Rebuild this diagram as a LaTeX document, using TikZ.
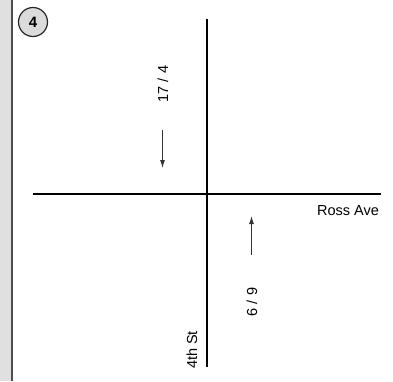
\documentclass[tikz,border=0pt]{standalone}
\usepackage{fontspec}
\setmainfont{Liberation Sans}
\usetikzlibrary{arrows.meta}
\begin{document}
\begin{tikzpicture}[x=1pt,y=-1pt,
  street/.style={line width=2.6pt,black},
  flow/.style={line width=1pt,black!80,-{Latex[length=8pt,width=5pt]}},
  lbl/.style={font=\fontsize{14.5}{17}\selectfont,inner sep=0pt},
  badge/.style={circle,draw=black!85,line width=1.2pt,fill=black!14,minimum size=29pt,inner sep=0pt,font=\fontsize{15}{17}\selectfont\bfseries}]
\useasboundingbox (0,0) rectangle (393,381);
\fill[black!12] (0,0) rectangle (11.5,381);
\draw[black!70,line width=1.3pt] (12,0) -- (12,381);
\node[badge] (num) at (33,22) {4};
\coordinate (vt) at (207,19);
\coordinate (vb) at (207,367);
\coordinate (hl) at (33,194);
\coordinate (hr) at (381,194);
\draw[street] (vt) -- (vb);
\draw[street] (hl) -- (hr);
\node[lbl,rotate=90] (sb) at (163,84) {17 / 4};
\node[lbl,rotate=90] (nb) at (252,302) {6 / 9};
\node[lbl] (ross) at (348,211) {Ross Ave};
\node[lbl,rotate=90] (fourth) at (192,350) {4th St};
\coordinate (a1s) at (162.5,130);
\coordinate (a1e) at (162.5,168);
\coordinate (a2s) at (251.5,255);
\coordinate (a2e) at (251.5,216);
\draw[flow] (a1s) -- (a1e);
\draw[flow] (a2s) -- (a2e);
\end{tikzpicture}
\end{document}
